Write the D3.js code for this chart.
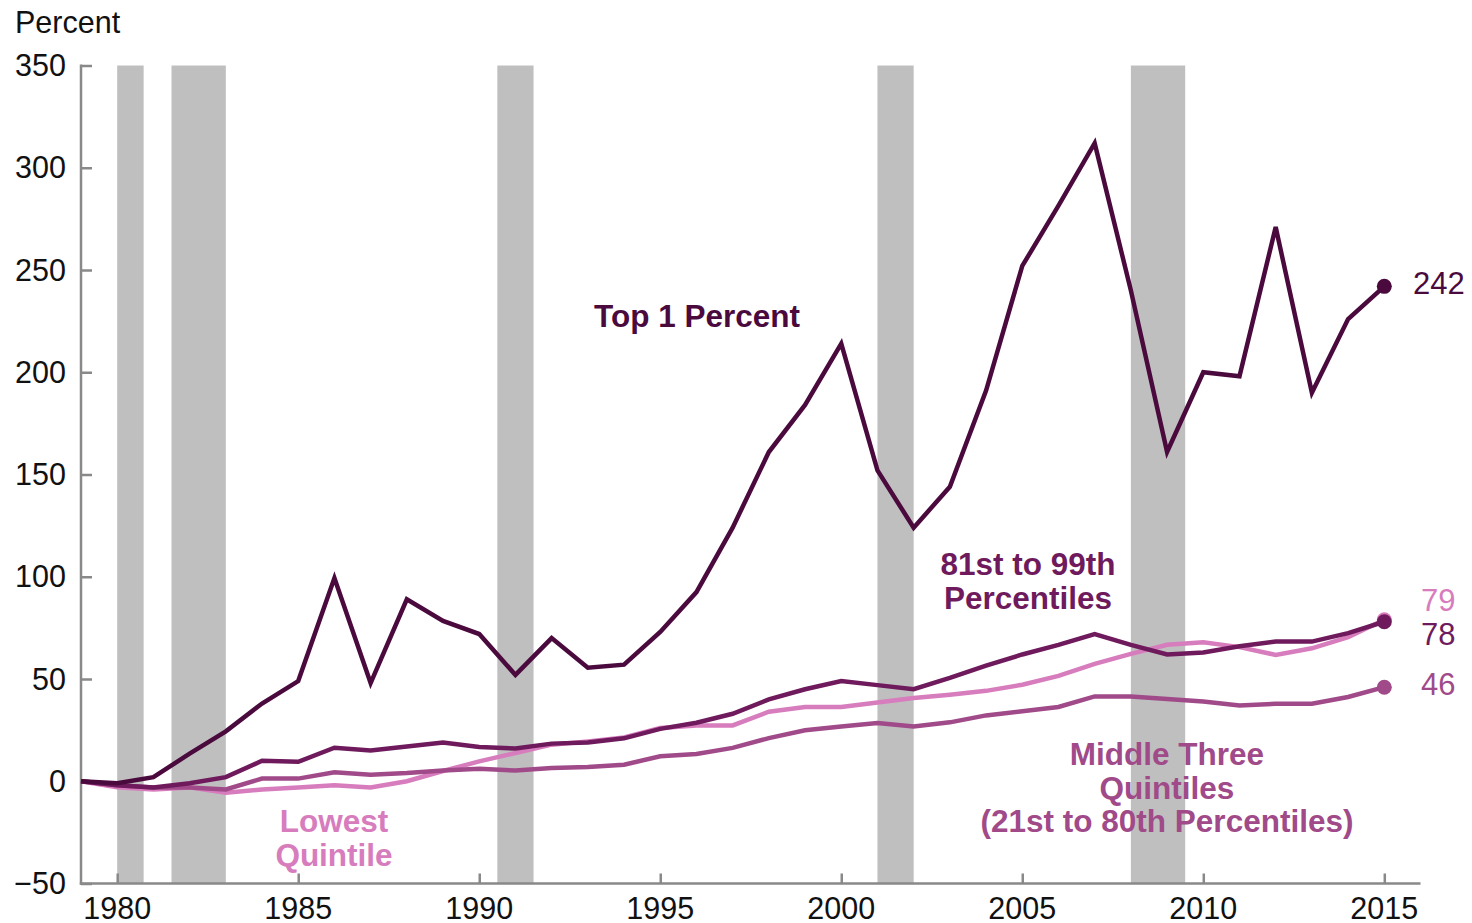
<!DOCTYPE html>
<html>
<head>
<meta charset="utf-8">
<script src="https://cdn.jsdelivr.net/npm/d3@7"></script>
<style>
  body { margin: 0; background: #fff; }
  text { font-family: "Liberation Sans", Arial, sans-serif; }
</style>
</head>
<body>
<div id="canvas"></div>
<script>
var years = d3.range(1979, 2016);
var top1 = [0, -1, 2, 13.5, 24.4, 38, 49, 99.4, 48, 89, 78.4, 72, 52, 70, 55.5, 57, 73, 92.5, 124, 161, 184, 214, 152, 124, 144, 191, 252, 281.5, 312, 240, 161, 200, 198, 271, 190, 226, 242];
var p81to99 = [0, -2, -3, -1, 2, 10, 9.5, 16.4, 15, 17, 19, 16.7, 16, 18.4, 19, 21, 25.6, 28.6, 33, 40, 45, 49, 47, 45, 50.5, 56.5, 62, 66.7, 72, 66.7, 62, 63, 66, 68.3, 68.3, 72.4, 78];
var middle3 = [0, -2, -3, -3, -4, 1.3, 1.3, 4.4, 3.2, 4, 5.3, 6.1, 5.2, 6.5, 7, 8.1, 12.2, 13.3, 16.3, 21.1, 24.9, 26.8, 28.5, 26.8, 28.8, 32.2, 34.2, 36.3, 41.5, 41.5, 40.2, 39, 37, 37.9, 37.9, 41.2, 46];
var lowest = [0, -3, -4, -3, -5.6, -4, -3, -2, -3, 0, 5, 9.7, 13.8, 17.9, 19.5, 21.4, 26, 27.3, 27.3, 34, 36.3, 36.3, 38.5, 40.7, 42.3, 44.2, 47.2, 51.5, 57.4, 62.3, 66.7, 68, 65.6, 61.8, 65, 70.5, 79];
var recessions = [[1980.0, 1980.73], [1981.5, 1983.0], [1990.5, 1991.5], [2001.0, 2002.0], [2008.0, 2009.5]];
var yTicks = [-50, 0, 50, 100, 150, 200, 250, 300, 350];
var xTicks = [1980, 1985, 1990, 1995, 2000, 2005, 2010, 2015];

var width = 1472, height = 923;
var plotLeft = 81, plotRight = 1420.5, plotTop = 65.5, plotBottom = 883.5;

var svg = d3.select("#canvas").append("svg").attr("width", width).attr("height", height);

var x = d3.scaleLinear().domain([1979, 2016]).range([plotLeft, plotRight]);
var y = d3.scaleLinear().domain([-50, 350]).range([plotBottom, plotTop]);

// recession shading
svg.selectAll("rect.rec").data(recessions).enter().append("rect")
    .attr("class", "rec")
    .attr("x", function(d) { return x(d[0]); })
    .attr("width", function(d) { return x(d[1]) - x(d[0]); })
    .attr("y", y(350))
    .attr("height", y(-50) - y(350))
    .attr("fill", "#bfbfbf");

// axes
svg.append("g").attr("transform", "translate(" + plotLeft + ",0)")
    .call(d3.axisRight(y).tickValues(yTicks).tickSize(11).tickFormat(""));
svg.append("g").attr("transform", "translate(0," + plotBottom + ")")
    .call(d3.axisTop(x).tickValues(xTicks).tickSize(10).tickFormat(""));
svg.selectAll(".domain").remove();
svg.selectAll(".tick line").attr("stroke", "#898989").attr("stroke-width", 2.5);
svg.append("line").attr("x1", plotLeft).attr("x2", plotLeft).attr("y1", plotTop - 1).attr("y2", plotBottom + 1.2)
    .attr("stroke", "#898989").attr("stroke-width", 2.5);
svg.append("line").attr("x1", plotLeft - 1.2).attr("x2", plotRight).attr("y1", plotBottom).attr("y2", plotBottom)
    .attr("stroke", "#898989").attr("stroke-width", 2.5);

svg.selectAll("text.ylab").data(yTicks).enter().append("text")
    .attr("class", "ylab")
    .attr("x", 66)
    .attr("y", function(d) { return y(d) + 10.5; })
    .attr("text-anchor", "end")
    .style("font-size", "30.5px")
    .style("fill", "#111")
    .text(function(d) { return d < 0 ? "\u2212" + Math.abs(d) : d; });

svg.selectAll("text.xlab").data(xTicks).enter().append("text")
    .attr("class", "xlab")
    .attr("x", function(d) { return x(d); })
    .attr("y", 919)
    .attr("text-anchor", "middle")
    .style("font-size", "30.5px")
    .style("fill", "#111")
    .text(function(d) { return d; });

svg.append("text").attr("x", 15).attr("y", 33)
    .style("font-size", "30.5px").style("fill", "#111").text("Percent");

// lines
var series = [
    { name: "lowest", values: lowest, color: "#d77cbd" },
    { name: "middle", values: middle3, color: "#a04a89" },
    { name: "p81", values: p81to99, color: "#6e1a5c" },
    { name: "top1", values: top1, color: "#4b0a3d" }
];

var line = d3.line()
    .x(function(d, i) { return x(years[i]); })
    .y(function(d) { return y(d); });

series.forEach(function(s) {
    svg.append("path")
        .datum(s.values)
        .attr("d", line)
        .attr("fill", "none")
        .attr("stroke", s.color)
        .attr("stroke-width", 4.5)
        .attr("stroke-linejoin", "miter");
    svg.append("circle")
        .attr("cx", x(2015))
        .attr("cy", y(s.values[s.values.length - 1]))
        .attr("r", 7.5)
        .attr("fill", s.color);
});

// end value labels
var endPos = [
    { text: "242", x: 1413, y: 294, color: "#4b0a3d" },
    { text: "79", x: 1421, y: 611, color: "#d77cbd" },
    { text: "78", x: 1421, y: 645, color: "#6e1a5c" },
    { text: "46", x: 1421, y: 695, color: "#a04a89" }
];
endPos.forEach(function(e) {
    svg.append("text").attr("x", e.x).attr("y", e.y)
        .style("font-size", "31px").style("fill", e.color).text(e.text);
});

// series labels
var labels = [
    { lines: ["Top 1 Percent"], x: 697, y: 327, color: "#4b0a3d" },
    { lines: ["81st to 99th", "Percentiles"], x: 1028, y: 575, color: "#6e1a5c" },
    { lines: ["Middle Three", "Quintiles", "(21st to 80th Percentiles)"], x: 1167, y: 765, color: "#a04a89" },
    { lines: ["Lowest", "Quintile"], x: 334, y: 832, color: "#d77cbd" }
];
labels.forEach(function(l) {
    l.lines.forEach(function(t, i) {
        svg.append("text")
            .attr("x", l.x)
            .attr("y", l.y + i * 33.5)
            .attr("text-anchor", "middle")
            .style("font-size", "31.5px")
            .style("font-weight", "bold")
            .style("fill", l.color)
            .text(t);
    });
});
</script>
</body>
</html>
